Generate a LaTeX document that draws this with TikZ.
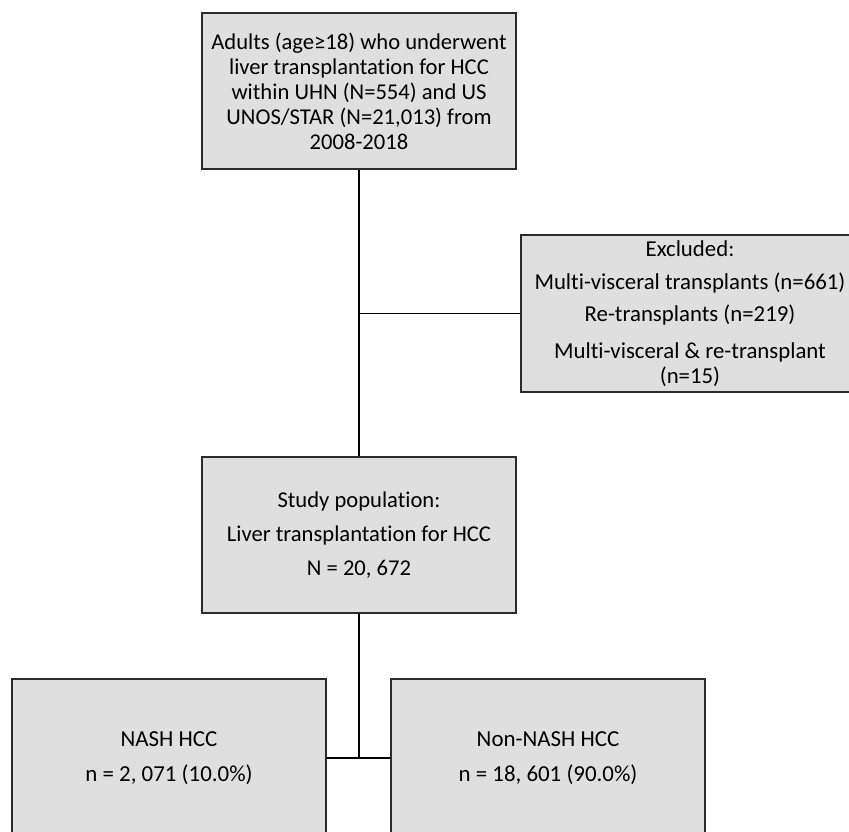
\documentclass[tikz,border=0pt]{standalone}
\usepackage{fontspec}
\setmainfont[Ligatures=NoCommon]{Carlito}
\usetikzlibrary{positioning}

\definecolor{boxfill}{HTML}{DFDFDF}
\definecolor{boxline}{HTML}{2B2B2B}

\tikzset{
  flowbox/.style={draw=boxline, line width=1.6pt, fill=boxfill, align=center,
    inner sep=0pt, minimum width=314pt, minimum height=156pt},
  link/.style={draw=black, line width=1.8pt}
}

\begin{document}
\begin{tikzpicture}[x=1pt, y=-1pt]

% Canvas
\useasboundingbox (0,0) rectangle (849,831);
\clip (0,0) rectangle (849,831);

% ---- Cohort box ----
\node[flowbox, font=\fontsize{22.6}{25}\selectfont] (adults) at (359, 91)
  {Adults (age≥18) who underwent\\liver transplantation for HCC\\within UHN (N=554) and US\\UNOS/STAR (N=21,013) from\\2008-2018};

% ---- Excluded box ----
\node[flowbox, minimum width=338pt, minimum height=157pt, font=\fontsize{22.8}{25}\selectfont] (excluded) at (690, 313.5)
  {Excluded:\\[8pt]Multi-visceral transplants (n=661)\\[7pt]Re-transplants (n=219)\\[12pt]Multi-visceral \& re-transplant\\(n=15)};

% ---- Study population box ----
\node[flowbox, font=\fontsize{22.6}{25}\selectfont] (study) at (359, 535)
  {Study population:\\[9pt]Liver transplantation for HCC\\[9pt]N = 20, 672};

% ---- Outcome boxes ----
\node[flowbox, minimum height=158pt, font=\fontsize{22.9}{26}\selectfont] (nash) at (169, 758)
  {NASH HCC\\[9pt]n = 2, 071 (10.0\%)};
\node[flowbox, minimum height=158pt, font=\fontsize{22.9}{26}\selectfont] (nonnash) at (548, 758)
  {Non-NASH HCC\\[9pt]n = 18, 601 (90.0\%)};

% Connectors
\draw[link] (adults.south) -- (study.north);
\coordinate (exbranch) at (adults.south |- excluded.west);
\draw[link] (exbranch) -- (excluded.west);
\coordinate (split) at (study.south |- nash.east);
\draw[link] (study.south) -- (split);
\draw[link] (nash.east) -- (nonnash.west);

\end{tikzpicture}
\end{document}
